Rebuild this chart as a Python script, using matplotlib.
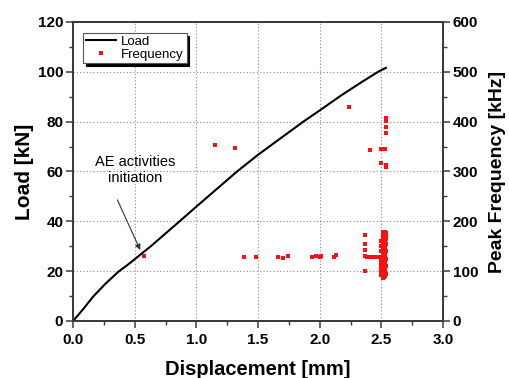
import matplotlib
matplotlib.use("Agg")
import matplotlib.pyplot as plt
from matplotlib.ticker import MultipleLocator, FormatStrFormatter
from matplotlib.lines import Line2D

plt.rcParams['font.family'] = ['Liberation Sans', 'DejaVu Sans']

# Load-displacement curve
load_disp = [0.0, 0.08, 0.16, 0.26, 0.366, 0.45, 0.626, 0.864, 1.0, 1.33, 1.5, 1.867, 2.0, 2.17, 2.35, 2.48, 2.537]
load_kN   = [0.0, 4.6, 9.6, 14.8, 19.7, 22.8, 29.8, 40.0, 45.9, 60.0, 66.7, 80.0, 84.5, 90.4, 96.2, 100.2, 101.6]

# AE peak frequency events (scattered ones)
freq_disp = [0.577, 1.15, 1.31, 1.39, 1.48, 1.66, 1.70, 1.74,
             1.94, 1.97, 2.00, 2.01, 2.12, 2.13, 2.24,
             2.37, 2.37, 2.37, 2.37, 2.37, 2.38, 2.40, 2.41, 2.43, 2.45, 2.47, 2.49,
             2.50, 2.51, 2.53, 2.54, 2.54, 2.54, 2.54, 2.50, 2.54, 2.54]
freq_kHz  = [130, 353, 347, 128, 128, 128, 127, 130,
             128, 130, 128, 131, 128, 132, 430,
             172, 155, 142, 130, 100, 128, 128, 343, 128, 129, 128, 128,
             345, 345, 345, 407, 401, 390, 378, 317, 310, 313]

# Dense cluster near failure (one column per displacement)
cluster_disp = [2.50, 2.51, 2.52, 2.53, 2.54]
cluster_kHz = [
    [92, 100, 108, 116, 124, 140, 150, 160],
    [86, 94, 102, 110, 118, 126, 134, 142, 150, 158, 166, 172, 178],
    [88, 96, 104, 112, 120, 128, 136, 144, 152, 160, 168, 175, 179],
    [90, 98, 106, 114, 122, 130, 138, 146, 154, 162, 170, 176, 179],
    [95, 110, 125, 140, 155, 165, 172, 177],
]

all_x = list(freq_disp)
all_y = list(freq_kHz)
for xd, col in zip(cluster_disp, cluster_kHz):
    all_x += [xd] * len(col)
    all_y += col

fig = plt.figure(figsize=(5.09, 3.78), dpi=100)
ax = fig.add_axes([0.1434, 0.1508, 0.727, 0.791])
ax2 = ax.twinx()

ax.plot(load_disp, load_kN, color='black', lw=1.5, zorder=3)
ax2.plot(all_x, all_y, linestyle='none', marker='s', markersize=3.0,
         color='#ff1010', markeredgewidth=0, zorder=2)

ax.set_xlim(0, 3.0)
ax.set_ylim(0, 120)
ax2.set_ylim(0, 600)

ax.xaxis.set_major_locator(MultipleLocator(0.5))
ax.xaxis.set_minor_locator(MultipleLocator(0.25))
ax.yaxis.set_major_locator(MultipleLocator(20))
ax.yaxis.set_minor_locator(MultipleLocator(10))
ax2.yaxis.set_major_locator(MultipleLocator(100))
ax2.yaxis.set_minor_locator(MultipleLocator(50))
ax.xaxis.set_major_formatter(FormatStrFormatter('%.1f'))

ax.grid(True, which='major', linestyle=(0, (1, 2)), color='#888888', lw=0.8)

spine_col = '#3a3a3a'
for a in (ax, ax2):
    for s in a.spines.values():
        s.set_color(spine_col)
        s.set_linewidth(1.3)
    a.tick_params(which='major', direction='out', length=5, width=1.1, color=spine_col,
                  labelsize=11, pad=2)
    a.tick_params(which='minor', direction='out', length=3, width=1.0, color=spine_col)
ax.tick_params(axis='x', which='major', pad=4)
for lab in ax.get_xticklabels() + ax.get_yticklabels() + ax2.get_yticklabels():
    lab.set_fontweight('bold')

ax.set_xlabel('Displacement [mm]', fontsize=14.5, fontweight='bold', labelpad=9)
ax.set_ylabel('Load [kN]', fontsize=15, fontweight='bold', labelpad=3)
ax2.set_ylabel('Peak Frequency [kHz]', fontsize=14, fontweight='bold', labelpad=8)

ax.text(0.505, 60.6, 'AE activities\ninitiation', ha='center', va='center',
        fontsize=10.5, linespacing=1.1)
ax.annotate('', xy=(0.545, 28.5), xytext=(0.36, 48.6),
            arrowprops=dict(arrowstyle='-|>', color='#333333', lw=0.8,
                            mutation_scale=8, shrinkA=0, shrinkB=0))

handles = [Line2D([], [], color='black', lw=1.5),
           Line2D([], [], linestyle='none', marker='s', markersize=3.0,
                  color='#ff1010', markeredgewidth=0)]
leg = ax2.legend(handles, ['Load', 'Frequency'], loc='upper left',
                 bbox_to_anchor=(0.027, 0.963), fontsize=9.5, frameon=True,
                 fancybox=False, shadow={'color': 'black', 'alpha': 1.0},
                 borderpad=0.2, handlelength=2.3, labelspacing=0.05,
                 handletextpad=0.4, borderaxespad=0)
leg.get_frame().set_edgecolor('#555555')
leg.get_frame().set_linewidth(0.8)
leg.get_frame().set_alpha(1)

fig.savefig('out.png', dpi=100)
